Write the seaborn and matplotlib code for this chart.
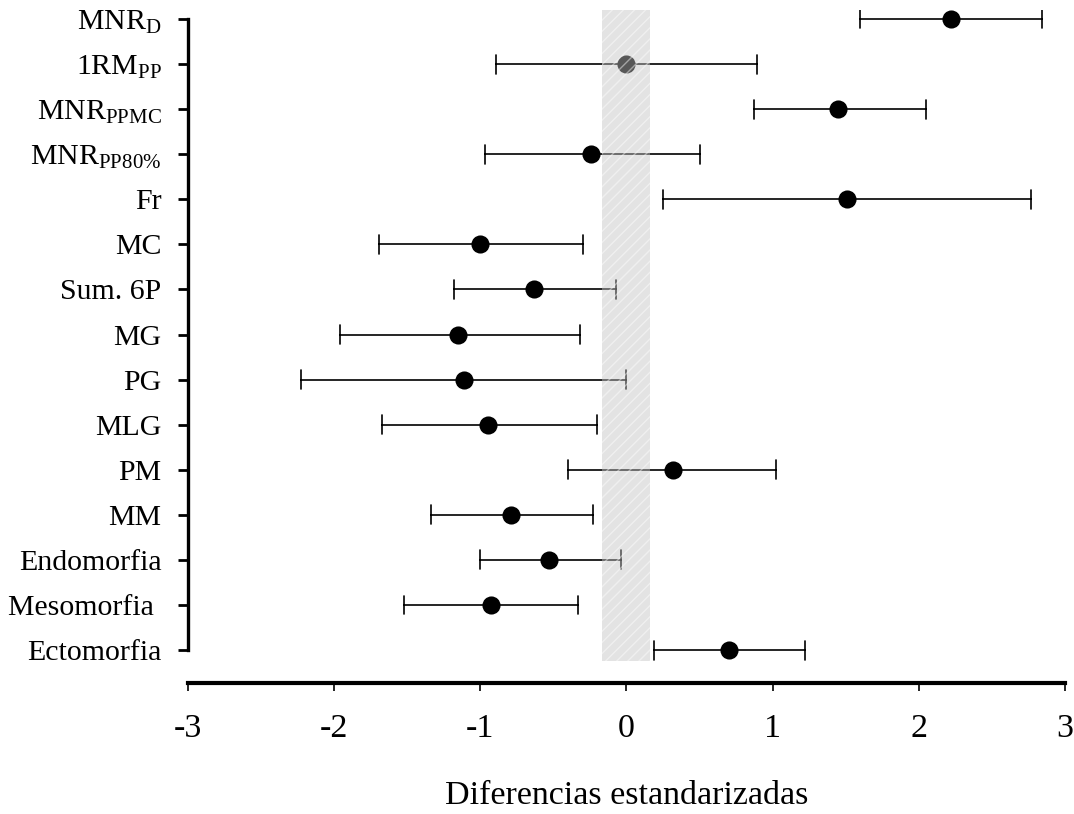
import matplotlib
matplotlib.use("Agg")
import matplotlib.pyplot as plt
import seaborn as sns
import pandas as pd

# Standardized differences with 95% confidence limits
labels = [
    r"$\mathregular{MNR_{D}}$",
    r"$\mathregular{1RM_{PP}}$",
    r"$\mathregular{MNR_{PPMC}}$",
    r"$\mathregular{MNR_{PP80\%}}$",
    "Fr",
    "MC",
    "Sum. 6P",
    "MG",
    "PG",
    "MLG",
    "PM",
    "MM",
    "Endomorfia",
    "Mesomorfia ",
    "Ectomorfia",
]
estimate = [2.22, 0.00, 1.45, -0.24, 1.51, -1.00, -0.63, -1.15, -1.11, -0.95, 0.32, -0.79, -0.53, -0.93, 0.70]
lower = [1.60, -0.89, 0.87, -0.97, 0.25, -1.69, -1.18, -1.96, -2.23, -1.67, -0.40, -1.34, -1.00, -1.52, 0.19]
upper = [2.84, 0.89, 2.05, 0.50, 2.77, -0.30, -0.07, -0.32, 0.00, -0.20, 1.02, -0.23, -0.04, -0.33, 1.22]

# Trivial-effect zone
trivial_lo, trivial_hi = -0.17, 0.16

x_ticks = [-3, -2, -1, 0, 1, 2, 3]

sns.set_theme(style="white")
plt.rcParams["font.family"] = ["Liberation Serif", "DejaVu Serif"]
plt.rcParams["mathtext.fontset"] = "custom"
plt.rcParams["mathtext.rm"] = "Liberation Serif"
plt.rcParams["mathtext.it"] = "Liberation Serif:italic"
plt.rcParams["mathtext.bf"] = "Liberation Serif:bold"
plt.rcParams["hatch.linewidth"] = 1.0
plt.rcParams["text.color"] = "black"
plt.rcParams["axes.labelcolor"] = "black"
plt.rcParams["xtick.color"] = "black"
plt.rcParams["ytick.color"] = "black"

# Long form: low / estimate / high per row; median + full range gives the point and CI
rows = []
for lab, e, lo, hi in zip(labels, estimate, lower, upper):
    for v in (lo, e, hi):
        rows.append({"label": lab, "value": v})
df = pd.DataFrame(rows)

fig = plt.figure(figsize=(10.74, 8.14), dpi=100)
ax = fig.add_axes([0.175, 0.161, 0.8166, 0.8267])

sns.pointplot(
    data=df, x="value", y="label", order=labels,
    estimator="median", errorbar=("pi", 100),
    color="black", linestyle="none", markers="o",
    markersize=11, err_kws={"linewidth": 1.2}, capsize=0.42,
    ax=ax,
)

ax.set_xlim(-3, 3)
ax.set_ylim(14.73, -0.2)
ax.set_xticks(x_ticks)
ax.set_xticklabels([str(t) for t in x_ticks])

# Shaded trivial band overlaid on the intervals
ax.fill_betweenx(
    [-0.2, 14.24], trivial_lo, trivial_hi,
    facecolor=(0.76, 0.76, 0.76), edgecolor="white",
    hatch="///", linewidth=0, alpha=0.46, zorder=10,
)

sns.despine(ax=ax, top=True, right=True)
ax.spines["left"].set_bounds(0, 14)
ax.spines["left"].set_linewidth(2.4)
ax.spines["left"].set_color("black")
ax.spines["bottom"].set_linewidth(3.0)
ax.spines["bottom"].set_color("black")

ax.tick_params(axis="y", direction="out", length=7, width=2, colors="black",
               pad=12, labelsize=21.5, left=True)
ax.tick_params(axis="x", direction="out", length=6, width=1.2, colors="black",
               pad=16, labelsize=24.5, bottom=True)

ax.set_ylabel("")
ax.set_xlabel("Diferencias estandarizadas", fontsize=24.5, labelpad=26, color="black")
ax.grid(False)

fig.savefig("out.png", dpi=100)
